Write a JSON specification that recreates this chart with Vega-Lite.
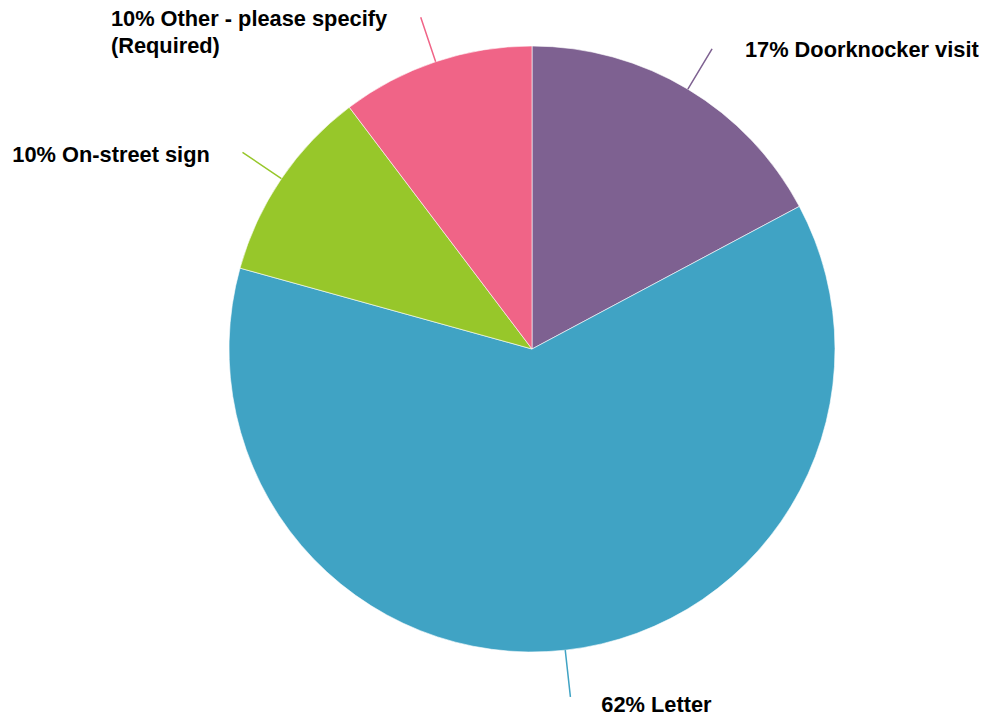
{
  "$schema": "https://vega.github.io/schema/vega-lite/v6.json",
  "width": 904,
  "height": 698,
  "autosize": {"type": "none"},
  "padding": {"left": 80, "top": 0, "right": 0, "bottom": 22},
  "background": "white",
  "view": {"stroke": null},
  "config": {"text": {"font": "Liberation Sans", "fontWeight": "bold", "fontSize": 21.8, "color": "#000000"}},
  "data": {
    "values": [
      {"i": 1, "cat": "Doorknocker visit", "pct": 17.2, "label": "17% Doorknocker visit"},
      {"i": 2, "cat": "Letter", "pct": 62.1, "label": "62% Letter"},
      {"i": 3, "cat": "On-street sign", "pct": 10.4, "label": "10% On-street sign"},
      {"i": 4, "cat": "Other - please specify (Required)", "pct": 10.3, "label": "10% Other - please specify\n(Required)"}
    ]
  },
  "transform": [
    {"window": [{"op": "sum", "field": "pct", "as": "cum"}], "sort": [{"field": "i"}]},
    {"calculate": "datum.cum - datum.pct / 2", "as": "mid"}
  ],
  "layer": [
    {
      "mark": {"type": "arc", "outerRadius": 303, "stroke": "#ffffff", "strokeWidth": 0.6},
      "encoding": {
        "theta": {"field": "pct", "type": "quantitative", "stack": true, "scale": {"domain": [0, 100]}},
        "order": {"field": "i", "type": "quantitative"},
        "color": {
          "field": "cat",
          "type": "nominal",
          "legend": null,
          "scale": {
            "domain": ["Doorknocker visit", "Letter", "On-street sign", "Other - please specify (Required)"],
            "range": ["#7E6191", "#40A3C4", "#97C72A", "#F06487"]
          }
        }
      }
    },
    {
      "mark": {"type": "arc", "filled": false, "innerRadius": 303, "outerRadius": 350, "strokeWidth": 1.5},
      "encoding": {
        "theta": {"field": "mid", "type": "quantitative", "stack": null},
        "theta2": {"field": "mid"},
        "color": {"field": "cat", "type": "nominal", "legend": null}
      }
    },
    {
      "transform": [{"filter": "datum.i == 1"}],
      "mark": {"type": "text", "radius": 340, "align": "left", "baseline": "middle", "dx": 38, "dy": -7},
      "encoding": {
        "theta": {"field": "mid", "type": "quantitative", "stack": null},
        "text": {"field": "label", "type": "nominal"}
      }
    },
    {
      "transform": [{"filter": "datum.i == 2"}],
      "mark": {"type": "text", "radius": 340, "align": "left", "baseline": "middle", "dx": 32, "dy": 18},
      "encoding": {
        "theta": {"field": "mid", "type": "quantitative", "stack": null},
        "text": {"field": "label", "type": "nominal"}
      }
    },
    {
      "transform": [{"filter": "datum.i == 3"}],
      "mark": {"type": "text", "radius": 340, "align": "right", "baseline": "middle", "dx": -41, "dy": -3},
      "encoding": {
        "theta": {"field": "mid", "type": "quantitative", "stack": null},
        "text": {"field": "label", "type": "nominal"}
      }
    },
    {
      "transform": [{"filter": "datum.i == 4"}],
      "mark": {"type": "text", "radius": 340, "align": "left", "baseline": "middle", "lineBreak": "\n", "lineHeight": 27, "dx": -313, "dy": -8},
      "encoding": {
        "theta": {"field": "mid", "type": "quantitative", "stack": null},
        "text": {"field": "label", "type": "nominal"}
      }
    }
  ]
}
